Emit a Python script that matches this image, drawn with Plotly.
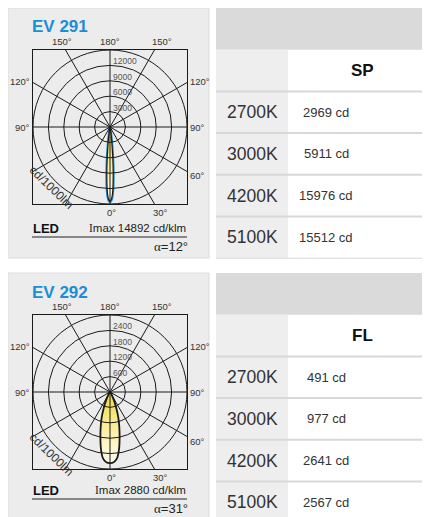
import numpy as np
import plotly.graph_objects as go

# the page body keeps its default 8px margin, so the figure is 8px smaller
OFF = 8
W, H = 430 - OFF, 517 - OFF

models = ["EV 291", "EV 292"]
beam_names = ["SP", "FL"]
color_temps = ["2700K", "3000K", "4200K", "5100K"]
sp_candela = [2969, 5911, 15976, 15512]
fl_candela = [491, 977, 2641, 2567]
imax_values = [14892, 2880]
beam_angles = [12, 31]
ring_steps = [3000, 600]
ring_labels_291 = [3000, 6000, 9000, 12000]
ring_labels_292 = [600, 1200, 1800, 2400]

# luminous intensity (cd/klm) against angle from nadir, symmetric beams
sp_angles = [0, 1, 2, 3, 4, 5, 6, 7, 8, 10, 12, 15, 20]
sp_c0 = [14600, 14350, 13600, 12100, 10000, 7600, 5400, 3600, 2300, 900, 350, 100, 0]
sp_c90 = [14400, 14100, 13200, 11300, 8900, 6400, 4300, 2700, 1600, 550, 200, 50, 0]
fl_angles = [0, 3, 6, 9, 12, 15, 18, 21, 25, 30, 40, 60]
fl_c0 = [2770, 2740, 2600, 2250, 1800, 1400, 1050, 700, 380, 150, 30, 0]

BLUE = "#1b8dd6"
INK = "#1a1a1a"
TXT = "#333333"


def px(x):
    return (x - OFF) / W


def py(y):
    return 1 - (y - OFF) / H


def polar_xy(angles, vals):
    a = np.radians(np.r_[-np.array(angles[::-1]), np.array(angles[1:])])
    r = np.r_[np.array(vals[::-1]), np.array(vals[1:])]
    return r * np.sin(a), -r * np.cos(a)


def note(x, y, text, size, xa="center", ya="middle", color=TXT, **kw):
    d = dict(x=px(x), y=py(y), xref="paper", yref="paper", text=text, showarrow=False,
             xanchor=xa, yanchor=ya, font=dict(size=size, color=color))
    d.update(kw)
    return d


fill_scale = [[0, "#fffdf2"], [0.45, "#fbf0a6"], [1, "#f3d93e"]]

fig = go.Figure()
shapes = []
annotations = []
layout_axes = {}

panels = [
    dict(dy=0, fy=0, step=ring_steps[0], rings=ring_labels_291,
         curves=[(sp_angles, sp_c0, BLUE, 2.2, False), (sp_angles, sp_c90, INK, 1.2, True)],
         values=sp_candela),
    dict(dy=265, fy=262, step=ring_steps[1], rings=ring_labels_292,
         curves=[(fl_angles, fl_c0, INK, 1.8, True)],
         values=fl_candela),
]

for i, p in enumerate(panels):
    sfx = "" if i == 0 else str(i + 1)
    cx, cy, half = 110, 127 + p["dy"], 77
    R = p["step"] * 5
    dy, fy = p["dy"], p["fy"]

    # grey card behind the diagram
    shapes.append(dict(type="rect", xref="paper", yref="paper", layer="below",
                       x0=px(8), x1=px(209), y0=py(8 + dy), y1=py(min(258 + dy, 520)),
                       fillcolor="#ececec", line=dict(color="#dcdcdc", width=1)))

    layout_axes["xaxis" + sfx] = dict(
        domain=[px(cx - half), px(cx + half)], range=[-R, R], anchor="y" + sfx,
        showgrid=False, zeroline=False, showticklabels=False, ticks="",
        showline=True, mirror=True, linecolor=INK, linewidth=1, fixedrange=True)
    layout_axes["yaxis" + sfx] = dict(
        domain=[py(cy + half), py(cy - half)], range=[-R, R], anchor="x" + sfx,
        showgrid=False, zeroline=False, showticklabels=False, ticks="",
        showline=True, mirror=True, linecolor=INK, linewidth=1, fixedrange=True)

    for angles, vals, col, lw, filled in p["curves"]:
        x, y = polar_xy(angles, vals)
        tr = dict(x=x, y=y, mode="lines", line=dict(color=col, width=lw, shape="spline", smoothing=0.8),
                  xaxis="x" + sfx, yaxis="y" + sfx, showlegend=False, hoverinfo="skip")
        if filled:
            tr.update(fill="toself", fillgradient=dict(type="vertical", colorscale=fill_scale))
        fig.add_trace(go.Scatter(**tr))

    # rings and spokes
    for k in range(1, 6):
        r = k * p["step"]
        shapes.append(dict(type="circle", xref="x" + sfx, yref="y" + sfx,
                           x0=-r, x1=r, y0=-r, y1=r, line=dict(color=INK, width=1)))
    for ang in [0, 30, 60, 90, 120, 150]:
        s, c = np.sin(np.radians(ang)), np.cos(np.radians(ang))
        t = R / max(abs(s), abs(c))
        shapes.append(dict(type="line", xref="x" + sfx, yref="y" + sfx,
                           x0=-t * s, y0=t * c, x1=t * s, y1=-t * c,
                           line=dict(color=INK, width=1)))

    for lab in p["rings"]:
        annotations.append(dict(x=0, y=lab, xref="x" + sfx, yref="y" + sfx, text=str(lab),
                                showarrow=False, xanchor="left", yanchor="middle",
                                xshift=1, yshift=4, font=dict(size=8.5, color="#555")))

    # angle labels around the frame
    top, bot = cy - half, cy + half
    left, right = cx - half, cx + half
    ang_labels = [
        ("150°", 62, top - 1, "center", "bottom"),
        ("180°", 110, top - 1, "center", "bottom"),
        ("150°", 162, top - 1, "center", "bottom"),
        ("120°", left - 1, cy - 46, "right", "middle"),
        ("120°", right + 1, cy - 46, "left", "middle"),
        ("90°", left - 1, cy, "right", "middle"),
        ("90°", right + 1, cy, "left", "middle"),
        ("60°", right + 1, cy + 49, "left", "middle"),
        ("0°", 111, bot + 1, "center", "top"),
        ("30°", 160, bot + 1, "center", "top"),
    ]
    for txt, x, y, xa, ya in ang_labels:
        annotations.append(note(x, y, txt, 9.5, xa, ya))
    annotations.append(note(51, 187 + dy + (2 if i else 0), "cd/1000lm", 12, textangle=44))

    # title and footer
    t = note(30, 27 + dy, models[i], 17, "left", color=BLUE)
    t["font"].update(family="Liberation Sans", weight="bold")
    annotations.append(t)
    annotations.append(note(31, 228 + fy, "<b>LED</b>", 13, "left", color="#111"))
    annotations.append(note(188, 228 + fy,
                            "<span style='font-family:Liberation Serif'>I</span>max %d cd/klm" % imax_values[i],
                            11.5, "right", color="#222"))
    shapes.append(dict(type="line", xref="paper", yref="paper", x0=px(32), x1=px(187),
                       y0=py(237 + fy), y1=py(237 + fy), line=dict(color="#222", width=1)))
    annotations.append(note(190, 246 + fy,
                            "<span style='font-family:Liberation Serif'>α</span>=%d°" % beam_angles[i],
                            13, "right", color="#222"))

    # table on the right
    row_h = 41.7
    t0 = 8 + dy
    edges = [t0 + k * row_h for k in range(7)]
    shapes.append(dict(type="rect", xref="paper", yref="paper", layer="below",
                       x0=px(216), x1=px(431), y0=py(edges[0]), y1=py(edges[1]),
                       fillcolor="#dadada", line=dict(width=0)))
    shapes.append(dict(type="rect", xref="paper", yref="paper", layer="below",
                       x0=px(216), x1=px(288), y0=py(edges[1]), y1=py(min(edges[6], 520)),
                       fillcolor="#eeeeee", line=dict(width=0)))
    for k in range(2, 7):
        if edges[k] > 517:
            continue
        shapes.append(dict(type="line", xref="paper", yref="paper", layer="below",
                           x0=px(216), x1=px(431), y0=py(edges[k]), y1=py(edges[k]),
                           line=dict(color="#d8d8d8", width=2 if k < 6 else 1)))
    annotations.append(note(362, (edges[1] + edges[2]) / 2, "<b>%s</b>" % beam_names[i], 17, color="#111"))
    for k, (ct, v) in enumerate(zip(color_temps, p["values"])):
        yc = (edges[k + 2] + edges[k + 3]) / 2
        annotations.append(note(225, yc, ct, 17.5, "left"))
        annotations.append(note(326, yc, "%d cd" % v, 13))

fig.update_layout(
    width=W, height=H,
    margin=dict(l=0, r=0, t=0, b=0),
    paper_bgcolor="white", plot_bgcolor="rgba(0,0,0,0)",
    font=dict(family="Liberation Sans, Arial, sans-serif", color=TXT),
    shapes=shapes, annotations=annotations,
    showlegend=False,
    **layout_axes,
)

fig.write_html("out.html")
